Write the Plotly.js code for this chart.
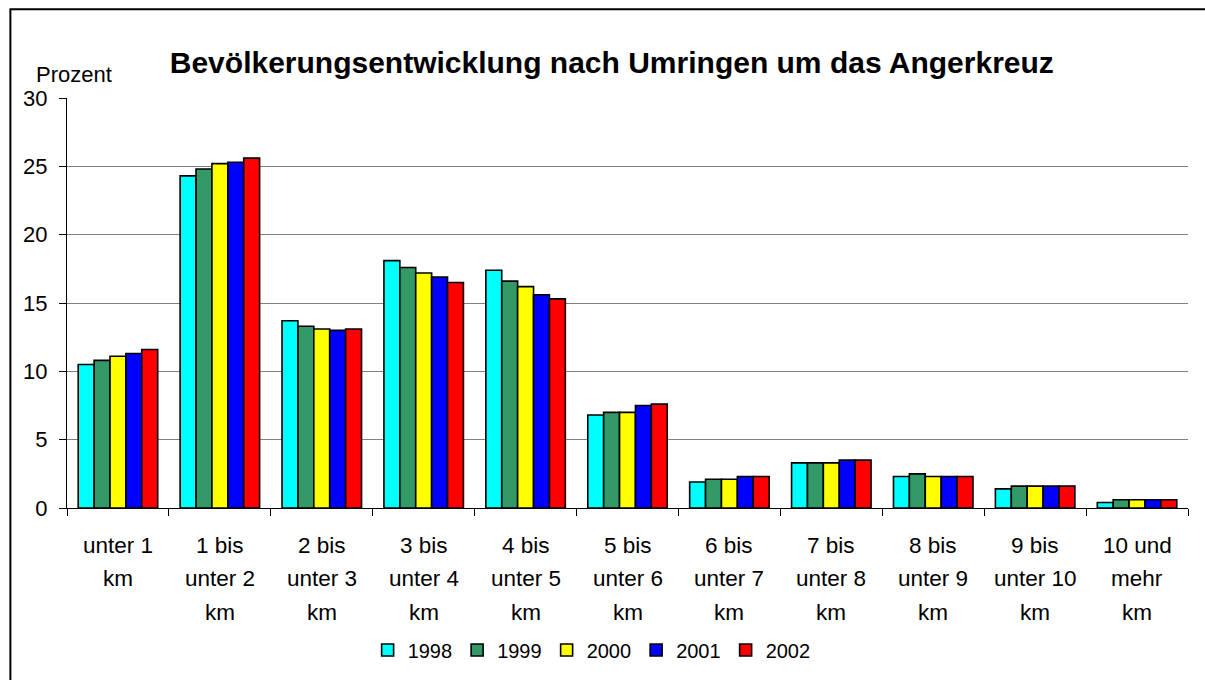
<!DOCTYPE html>
<html>
<head>
<meta charset="utf-8">
<script src="https://cdn.plot.ly/plotly-3.0.1.min.js"></script>
<style>
html,body{margin:0;padding:0;background:#fff;}
#chart{width:1205px;height:680px;}
</style>
</head>
<body>
<div id="chart"></div>
<script>
var categories = ["unter 1\nkm", "1 bis\nunter 2\nkm", "2 bis\nunter 3\nkm", "3 bis\nunter 4\nkm", "4 bis\nunter 5\nkm", "5 bis\nunter 6\nkm", "6 bis\nunter 7\nkm", "7 bis\nunter 8\nkm", "8 bis\nunter 9\nkm", "9 bis\nunter 10\nkm", "10 und\nmehr\nkm"];
var years = ["1998", "1999", "2000", "2001", "2002"];
var v1998 = [10.5, 24.3, 13.7, 18.1, 17.4, 6.8, 1.9, 3.3, 2.3, 1.4, 0.4];
var v1999 = [10.8, 24.8, 13.3, 17.6, 16.6, 7.0, 2.1, 3.3, 2.5, 1.6, 0.6];
var v2000 = [11.1, 25.2, 13.1, 17.2, 16.2, 7.0, 2.1, 3.3, 2.3, 1.6, 0.6];
var v2001 = [11.3, 25.3, 13.0, 16.9, 15.6, 7.5, 2.3, 3.5, 2.3, 1.6, 0.6];
var v2002 = [11.6, 25.6, 13.1, 16.5, 15.3, 7.6, 2.3, 3.5, 2.3, 1.6, 0.6];
var seriesValues = [v1998, v1999, v2000, v2001, v2002];
var colors = ["#00FFFF", "#339966", "#FFFF00", "#0000FF", "#FF0000"];
var yTicks = [0, 5, 10, 15, 20, 25, 30];

var FONT = "Liberation Sans, Arial, sans-serif";
var catKeys = categories.map(function(c, i){ return "c" + i; });

var traces = years.map(function(y, i){
  return {
    type: "bar",
    name: y,
    x: catKeys,
    y: seriesValues[i],
    marker: {color: colors[i], line: {color: "#000", width: 1.6}},
    hoverinfo: "y"
  };
});

var annotations = [];
categories.forEach(function(c, i){
  c.split("\n").forEach(function(line, j){
    annotations.push({
      x: catKeys[i], xref: "x", y: 0, yref: "paper",
      yanchor: "middle", xanchor: "center",
      yshift: -37 - j * 33.5,
      text: line, showarrow: false,
      font: {family: FONT, size: 22.5, color: "#000"}
    });
  });
});
annotations.push({
  x: 0.006, xref: "paper", y: 1.058, yref: "paper",
  xanchor: "center", yanchor: "middle",
  text: "Prozent", showarrow: false,
  font: {family: FONT, size: 22, color: "#000"}
});
annotations.push({
  x: -0.0508, xref: "paper", y: 1.2311, yref: "paper",
  xanchor: "left", yanchor: "bottom",
  text: "<b>Abbildung 6:</b>", showarrow: false,
  font: {family: FONT, size: 17, color: "#000"}
});

var layout = {
  width: 1205, height: 680,
  margin: {l: 67, r: 17, t: 98, b: 171},
  paper_bgcolor: "#fff", plot_bgcolor: "#fff",
  title: {
    text: "<b>Bevölkerungsentwicklung nach Umringen um das Angerkreuz</b>",
    font: {family: FONT, size: 30, color: "#000"},
    x: 0.486, xanchor: "center", xref: "paper",
    y: 1 - 62/680, yanchor: "middle", yref: "container"
  },
  barmode: "group",
  bargap: 0.22,
  bargroupgap: 0,
  showlegend: true,
  legend: {
    orientation: "h", x: 0.468, xanchor: "center", y: -0.343, yanchor: "middle",
    font: {family: FONT, size: 20, color: "#000"},
    itemwidth: 30, tracegroupgap: 0, itemclick: false
  },
  xaxis: {
    tickvals: catKeys, ticktext: categories.map(function(){ return ""; }),
    tickson: "boundaries",
    ticks: "outside", ticklen: 7, tickcolor: "#000", tickwidth: 1,
    showline: true, linecolor: "#000", linewidth: 1,
    showgrid: false, zeroline: false, fixedrange: true
  },
  yaxis: {
    range: [0, 30], tickvals: yTicks,
    ticks: "outside", ticklen: 7, tickcolor: "#000", tickwidth: 1,
    ticklabelstandoff: 7,
    showline: true, linecolor: "#000", linewidth: 1,
    showgrid: true, gridcolor: "#808080", gridwidth: 1,
    zeroline: false,
    tickfont: {family: FONT, size: 22, color: "#000"},
    fixedrange: true
  },
  annotations: annotations,
  shapes: [{
    type: "rect", xref: "paper", yref: "paper",
    x0: -0.0505, x1: 1.2, y0: -0.6, y1: 1.2165,
    line: {color: "#000", width: 2}, fillcolor: "rgba(0,0,0,0)", layer: "below"
  }]
};

Plotly.newPlot("chart", traces, layout, {displayModeBar: false, staticPlot: true});
</script>
</body>
</html>
